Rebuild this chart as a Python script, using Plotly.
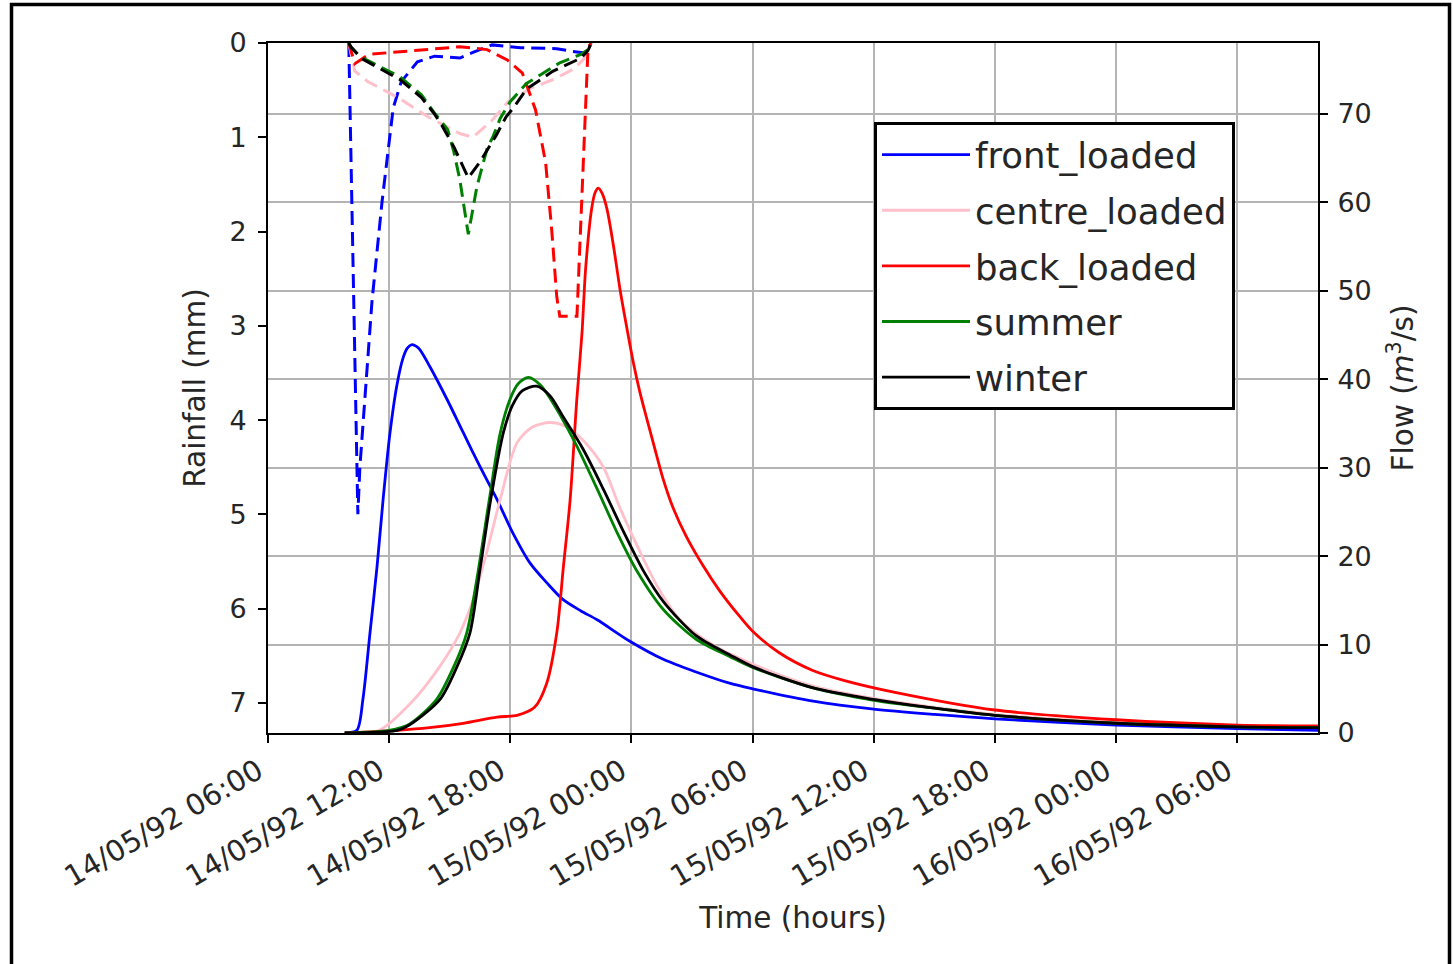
import pandas as pd
import plotly.graph_objects as go

# ---------------- data (hours after 14/05/92 06:00) ----------------
START = "1992-05-14 06:00"

series_names = ["front_loaded", "centre_loaded", "back_loaded", "summer", "winter"]
series_colors = ["blue", "pink", "red", "green", "black"]

# Flow (m3/s) - right axis
front_flow_h = [3.8, 4.4, 4.7, 5.05, 5.4, 5.7, 6.04, 6.39, 6.69, 6.9, 7.13, 7.35, 7.53, 8.02, 8.87,
                9.66, 10.5, 11.34, 12.13, 12.98, 13.8, 14.6, 15.5, 16.3, 17.9, 19.6, 21.2, 22.9,
                24.0, 27.0, 30.0, 33.0, 36.0, 42.0, 48.0, 52.0]
front_flow = [0.0, 0.3, 3.8, 11.3, 18.8, 26.4, 33.9, 39.4, 42.4, 43.5, 43.9, 43.7, 43.3, 41.4, 37.7,
              34.0, 30.1, 26.4, 22.6, 19.2, 17.0, 15.1, 13.8, 12.8, 10.4, 8.3, 6.9, 5.6,
              5.0, 3.6, 2.7, 2.1, 1.6, 0.9, 0.5, 0.3]

centre_flow_h = [3.8, 5.5, 7.2, 8.5, 9.5, 10.15, 10.85, 11.5, 12.33, 13.1, 13.97, 14.8, 15.6,
                 16.6, 17.4, 18.3, 19.3, 20.4, 22.0, 24.0, 27.0, 30.0, 33.0, 36.0, 42.0, 48.0, 52.0]
centre_flow = [0.0, 0.3, 3.7, 7.5, 11.3, 15.0, 20.6, 26.4, 32.8, 34.6, 35.1, 34.6, 33.1,
               30.1, 25.6, 21.1, 16.5, 12.8, 10.0, 7.8, 5.3, 3.9, 2.9, 2.1, 1.2, 0.8, 0.6]

back_flow_h = [3.8, 6.4, 8.0, 9.66, 11.34, 12.33, 13.2, 13.8, 14.3, 14.63, 14.96, 15.29, 15.55,
               15.73, 16.03, 16.2, 16.36, 16.55, 16.78, 17.1, 17.45, 17.77, 18.1, 18.42, 18.75,
               19.08, 19.57, 20.07, 20.72, 21.55, 22.36, 23.35, 24.0, 25.3, 26.95, 28.6, 31.05,
               36.0, 42.0, 48.0, 52.0]
back_flow = [0.0, 0.3, 0.6, 1.1, 1.8, 2.0, 2.9, 5.6, 11.3, 18.8, 26.3, 37.6, 45.2,
             52.5, 59.3, 61.1, 61.6, 61.0, 59.3, 55.2, 49.9, 45.8, 41.8, 38.5, 35.6,
             32.8, 28.7, 25.4, 22.2, 18.9, 16.1, 13.2, 11.5, 9.1, 7.1, 5.9, 4.6,
             2.6, 1.5, 0.9, 0.8]

summer_flow_h = [3.8, 6.0, 7.0, 8.35, 9.2, 9.84, 10.35, 10.96, 11.5, 12.0, 12.4, 12.9, 13.5,
                 14.3, 15.3, 16.3, 17.3, 18.3, 19.6, 21.2, 22.9, 24.0, 27.0, 30.0, 33.0, 36.0,
                 42.0, 48.0, 52.0]
summer_flow = [0.0, 0.3, 1.0, 3.8, 7.5, 11.3, 17.5, 26.4, 33.9, 37.8, 39.5, 40.2, 39.3,
               36.6, 32.4, 27.6, 22.6, 18.2, 13.9, 10.6, 8.6, 7.4, 5.1, 3.7, 2.8, 2.0,
               1.1, 0.7, 0.6]

winter_flow_h = [3.8, 6.4, 7.0, 8.52, 9.36, 10.0, 10.5, 11.03, 11.65, 12.1, 12.6, 13.3, 13.97,
                 14.6, 15.6, 16.6, 17.6, 18.6, 19.6, 21.2, 22.9, 24.0, 27.0, 30.0, 33.0, 36.0,
                 42.0, 48.0, 52.0]
winter_flow = [0.0, 0.3, 0.9, 3.8, 7.5, 11.3, 18.5, 26.4, 33.9, 37.0, 38.7, 39.2, 38.1,
               35.8, 32.1, 27.6, 22.8, 18.3, 14.8, 11.0, 8.8, 7.5, 5.1, 3.8, 2.8, 2.0,
               1.1, 0.7, 0.6]

# Rainfall (mm) - left axis (reversed)
front_rain_h = [4.0, 4.45, 4.55, 5.15, 5.65, 6.2, 6.6, 7.4, 8.25, 9.5, 10.15, 11.1, 12.5, 14.3,
                15.1, 15.8, 16.0]
front_rain = [0.0, 5.0, 4.5, 2.74, 1.68, 0.69, 0.41, 0.2, 0.14, 0.16, 0.1, 0.02, 0.05, 0.06,
              0.09, 0.11, 0.0]

centre_rain_h = [4.0, 4.3, 4.95, 6.45, 7.9, 9.5, 10.15, 11.1, 11.9, 12.5, 13.0, 14.1, 15.1,
                 15.6, 15.85, 16.0]
centre_rain = [0.0, 0.3, 0.41, 0.58, 0.78, 0.96, 1.0, 0.82, 0.62, 0.55, 0.48, 0.39, 0.28,
               0.18, 0.09, 0.0]

back_rain_h = [4.0, 4.3, 5.0, 6.2, 7.9, 9.5, 10.85, 11.85, 12.6, 13.25, 13.75, 14.05, 14.3,
               14.45, 15.3, 15.85, 16.0]
back_rain = [0.0, 0.22, 0.12, 0.1, 0.07, 0.04, 0.07, 0.18, 0.32, 0.71, 1.27, 1.98, 2.69,
             2.9, 2.9, 0.05, 0.0]

summer_rain_h = [4.0, 4.1, 4.6, 6.55, 7.6, 8.2, 8.9, 9.2, 9.5, 9.92, 10.35, 10.85, 11.15, 11.5,
                 12.0, 12.8, 14.45, 15.5, 15.85, 16.0]
summer_rain = [0.0, 0.04, 0.15, 0.36, 0.55, 0.73, 0.92, 1.15, 1.45, 2.03, 1.52, 1.12, 0.99, 0.8,
               0.62, 0.43, 0.21, 0.12, 0.07, 0.0]

winter_rain_h = [4.0, 4.1, 4.6, 6.55, 7.6, 8.2, 8.6, 9.2, 9.92, 10.5, 11.3, 11.8, 12.15, 12.8,
                 14.1, 15.5, 15.85, 16.0]
winter_rain = [0.0, 0.04, 0.16, 0.39, 0.58, 0.74, 0.87, 1.1, 1.43, 1.26, 0.98, 0.78, 0.69, 0.49,
               0.3, 0.16, 0.08, 0.0]

rain_ticks = [0, 1, 2, 3, 4, 5, 6, 7]
flow_ticks = [0, 10, 20, 30, 40, 50, 60, 70]

flows = [(front_flow_h, front_flow), (centre_flow_h, centre_flow), (back_flow_h, back_flow),
         (summer_flow_h, summer_flow), (winter_flow_h, winter_flow)]
rains = [(front_rain_h, front_rain), (centre_rain_h, centre_rain), (back_rain_h, back_rain),
         (summer_rain_h, summer_rain), (winter_rain_h, winter_rain)]

t0 = pd.Timestamp(START)


def to_time(hours):
    return t0 + pd.to_timedelta(hours, unit="h")


# ---------------- figure ----------------
W, H = 1453, 964
ML, MR, MT, MB = 268, 135, 43, 231
PW, PH = W - ML - MR, H - MT - MB

fig = go.Figure()

# rainfall (dashed, left axis)
for name, col, (h, v) in zip(series_names, series_colors, rains):
    fig.add_trace(go.Scatter(
        x=to_time(h), y=v, mode="lines", name=name, legendgroup=name,
        showlegend=False, yaxis="y",
        line=dict(color=col, width=3, dash="14px,7px"),
    ))

# flow (solid, right axis)
for name, col, (h, v) in zip(series_names, series_colors, flows):
    fig.add_trace(go.Scatter(
        x=to_time(h), y=v, mode="lines", name=name, legendgroup=name,
        showlegend=True, yaxis="y2",
        line=dict(color=col, width=2.8, shape="spline", smoothing=0.8),
    ))

FONT = "DejaVu Sans"
TXT = "#262626"
GRID = "#b4b4b4"

fig.update_layout(
    width=W, height=H,
    margin=dict(l=ML, r=MR, t=MT, b=MB, pad=0),
    paper_bgcolor="white", plot_bgcolor="white",
    font=dict(family=FONT, size=27, color=TXT),
    showlegend=True,
    legend=dict(
        x=(874 - ML) / PW, y=(H - MB - 122) / PH, xanchor="left", yanchor="top",
        bgcolor="white", bordercolor="black", borderwidth=3,
        font=dict(family=FONT, size=35.5, color=TXT),
        itemwidth=88, tracegroupgap=6.5,
    ),
    xaxis=dict(
        type="date",
        range=[to_time(0), to_time(52)],
        tick0=to_time(0), dtick=6 * 3600 * 1000,
        tickformat="%d/%m/%y %H:%M", tickangle=-30,
        tickfont=dict(size=29, color=TXT), ticklabelshift=-10,
        showgrid=True, gridcolor=GRID, gridwidth=1.5,
        showline=True, linecolor="black", linewidth=2, mirror=True,
        ticks="outside", ticklen=8, tickwidth=1.5, tickcolor="black",
        zeroline=False,
        title=dict(text="Time (hours)", font=dict(size=29.5, color=TXT), standoff=15),
    ),
    yaxis=dict(
        range=[7.32, 0], tickvals=rain_ticks,
        showgrid=False, zeroline=False,
        showline=True, linecolor="black", linewidth=2,
        ticks="outside", ticklen=8, tickwidth=1.5, tickcolor="black",
        tickfont=dict(size=27, color=TXT), ticklabelstandoff=6,
        title=dict(text="Rainfall (mm)", font=dict(size=29.5, color=TXT), standoff=15),
    ),
    yaxis2=dict(
        range=[0, 78], tickvals=flow_ticks, overlaying="y", side="right",
        showgrid=True, gridcolor=GRID, gridwidth=1.5, zeroline=False,
        showline=True, linecolor="black", linewidth=2,
        ticks="outside", ticklen=8, tickwidth=1.5, tickcolor="black",
        tickfont=dict(size=27, color=TXT), ticklabelstandoff=4,
        title=dict(text="Flow (<i>m</i><sup>3</sup>/s)", font=dict(size=29.5, color=TXT), standoff=22),
    ),
)

# outer black frame of the picture
fig.add_shape(
    type="rect", xref="paper", yref="paper",
    x0=(11.5 - ML) / PW, x1=(1449.5 - ML) / PW,
    y0=(H - MB - 990) / PH, y1=(H - MB - 4.5) / PH,
    line=dict(color="black", width=3.5), fillcolor="rgba(0,0,0,0)", layer="above",
)

fig.write_html("out.html")
